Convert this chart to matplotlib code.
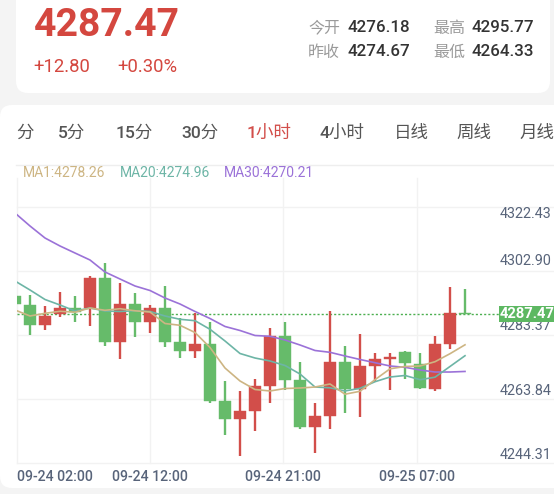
import matplotlib
matplotlib.use("Agg")
import matplotlib.pyplot as plt
from matplotlib.patches import FancyBboxPatch, Rectangle
from matplotlib.lines import Line2D
from matplotlib.transforms import IdentityTransform

# ---------------- data ----------------
opens = [4293.00, 4290.19, 4284.24, 4287.56, 4289.28, 4289.28, 4298.34, 4279.20,
         4290.67, 4285.05, 4289.28, 4279.10, 4276.39, 4278.65, 4261.29, 4255.70,
         4258.36, 4265.91, 4280.92, 4267.63, 4253.43, 4256.85, 4273.16, 4264.91,
         4271.95, 4273.88, 4276.18, 4272.46, 4264.91, 4278.50, 4287.95]
highs = [4294.20, 4293.21, 4290.07, 4294.30, 4293.09, 4299.13, 4303.05, 4296.83,
         4293.81, 4290.28, 4296.02, 4286.26, 4287.77, 4285.24, 4267.33, 4264.31,
         4267.87, 4283.42, 4285.24, 4273.16, 4260.59, 4288.47, 4277.99, 4281.46,
         4275.93, 4275.69, 4276.45, 4275.87, 4280.92, 4295.77, 4295.05]
lows = [4289.60, 4281.22, 4282.64, 4286.75, 4285.05, 4283.94, 4277.90, 4273.88,
        4280.61, 4281.73, 4277.69, 4274.42, 4274.42, 4260.77, 4251.02, 4244.68,
        4252.23, 4260.68, 4264.73, 4252.74, 4245.58, 4252.92, 4257.75, 4256.36,
        4267.02, 4264.61, 4267.93, 4264.90, 4264.33, 4276.99, 4287.47]
closes = [4290.49, 4284.15, 4286.96, 4289.28, 4288.26, 4298.34, 4279.20, 4290.67,
          4285.05, 4289.28, 4279.20, 4276.39, 4278.65, 4261.29, 4255.70, 4258.36,
          4265.91, 4280.92, 4267.63, 4253.34, 4256.76, 4273.16, 4264.76, 4271.86,
          4273.88, 4274.67, 4272.67, 4265.12, 4278.41, 4287.77, 4287.47]

ma1 = [4288.77, 4286.96, 4287.77, 4288.38, 4288.10, 4289.37, 4288.68, 4289.16,
       4288.53, 4288.16, 4284.69, 4284.15, 4281.97, 4277.44, 4271.25, 4267.33,
       4264.76, 4264.31, 4265.06, 4265.21, 4265.51, 4266.42, 4263.34, 4264.22,
       4267.72, 4271.01, 4271.71, 4271.86, 4273.15, 4275.57, 4278.26]
ma20 = [4297.53, 4294.81, 4291.94, 4290.28, 4288.47, 4289.37, 4288.47, 4288.32,
        4288.56, 4288.32, 4286.96, 4285.96, 4285.54, 4282.94, 4279.41, 4275.63,
        4274.27, 4273.37, 4272.01, 4269.44, 4265.51, 4265.27, 4264.31, 4265.12,
        4267.11, 4268.53, 4268.99, 4267.72, 4268.47, 4271.71, 4274.96]
ma30 = [4318.06, 4314.14, 4310.51, 4308.10, 4305.98, 4303.87, 4300.25, 4298.13,
        4296.02, 4294.66, 4292.39, 4290.58, 4288.32, 4286.20, 4283.79, 4282.58,
        4281.07, 4280.83, 4279.71, 4278.20, 4276.54, 4275.99, 4274.88, 4273.82,
        4272.85, 4271.86, 4271.46, 4270.65, 4270.04, 4270.04, 4270.21]

price_ticks = ["4322.43", "4302.90", "4283.37", "4263.84", "4244.31"]
price_tick_values = [4322.43, 4302.90, 4283.37, 4263.84, 4244.31]
time_labels = ["09-24 02:00", "09-24 12:00", "09-24 21:00", "09-25 07:00"]
last_price = 4287.47
last_price_text = "4287.47"
change_text = "+12.80"
change_pct_text = "+0.30%"
stat_names = ["今开", "最高", "昨收", "最低"]
stat_values = ["4276.18", "4295.77", "4274.67", "4264.33"]
tabs = ["分", "5分", "15分", "30分", "1小时", "4小时", "日线", "周线", "月线"]
active_tab = "1小时"
ma_labels = ["MA1:4278.26", "MA20:4274.96", "MA30:4270.21"]

# ---------------- style ----------------
plt.rcParams['font.family'] = ['Roboto', 'Noto Sans CJK SC', 'DejaVu Sans']
RED = "#D24E4A"
GREEN = "#66BB6A"
C_MA1 = "#CDB583"
C_MA20 = "#6DB5A6"
C_MA30 = "#9B72D8"
GRID = "#F2F2F2"
AXTXT = "#58647A"

W, H, DPI = 554, 494, 100
fig = plt.figure(figsize=(W / DPI, H / DPI), dpi=DPI, facecolor="#F4F4F4")
ID = IdentityTransform()


def fx(x):
    return x / W


def fy(y):
    return 1 - y / H


# cards (pixel coordinates, y measured from top)
def card(x0, y0, x1, y1, r=12):
    p = FancyBboxPatch((x0, H - y1), x1 - x0, y1 - y0,
                       boxstyle=f"round,pad=0,rounding_size={r}",
                       transform=ID, facecolor="white", edgecolor="none", zorder=-5)
    fig.patches.append(p)


card(16, -30, 550, 93)
card(0, 105, 580, 488)

# ---------------- header ----------------
fig.text(fx(34), fy(25), last_price_text, color="#D4473F", fontsize=28.2,
         fontweight="bold", va="center", ha="left")
fig.text(fx(33), fy(67), change_text, color="#D4473F", fontsize=13.3, va="center", ha="left")
fig.text(fx(117), fy(67), change_pct_text, color="#D4473F", fontsize=13.3, va="center", ha="left")

stat_pos = [(308, 347, 28), (433, 471, 28), (308, 347, 52), (433, 471, 52)]
for (lx, vx, yy), nm, val in zip(stat_pos, stat_names, stat_values):
    fig.text(fx(lx), fy(yy), nm, color="#9A9A9A", fontsize=11.5, va="center", ha="left")
    fig.text(fx(vx), fy(yy), val, color="#333333", fontsize=12.2, va="center", ha="left",
             fontweight="medium")

tab_x = [16, 58, 116, 181, 247, 320, 394, 456, 519]
for tx, t in zip(tab_x, tabs):
    fig.text(fx(tx), fy(133), t, color=RED if t == active_tab else "#555555",
             fontsize=12.6, va="center", ha="left", fontweight="medium")

fig.lines.append(Line2D([16, W], [H - 165, H - 165], transform=ID, color="#EEEEEE", lw=1))

ma_x = [23, 120, 224]
for mx, lab, col in zip(ma_x, ma_labels, [C_MA1, C_MA20, C_MA30]):
    fig.text(fx(mx), fy(173), lab, color=col, fontsize=10, va="center", ha="left")

# ---------------- chart ----------------
top_px, bot_px, left_px, right_px = 178, 462.7, 16.5, 554
ax = fig.add_axes([fx(left_px), fy(bot_px), (right_px - left_px) / W, (bot_px - top_px) / H])
ax.set_facecolor("none")
ax.set_zorder(1)
for s in ax.spines.values():
    s.set_visible(False)
ax.set_xticks([])
ax.set_yticks([])

step_px, first_px = 15.0, 15.0
ax.set_xlim((left_px - first_px) / step_px, (right_px - first_px) / step_px)
k = 0.30201
ax.set_ylim(last_price - (bot_px - 314.3) * k, last_price + (314.3 - top_px) * k)

span = bot_px - top_px
# horizontal gridlines
for j in range(5):
    py = 206.7 + 64 * j
    f = (bot_px - py) / span
    ax.plot([0, 1], [f, f], transform=ax.transAxes, color=GRID, lw=1, zorder=0, clip_on=False)
# vertical gridlines
for j in range(4):
    px = left_px + 133.4 * j
    f = (px - left_px) / (right_px - left_px)
    ax.plot([f, f], [0, 1], transform=ax.transAxes, color=GRID, lw=1, zorder=0, clip_on=False)

# price line
xmax_f = (499 - left_px) / (right_px - left_px)
ax.axhline(last_price, xmin=0, xmax=xmax_f, color="#4CAF50", lw=1.0,
           ls=(0, (1.5, 1.5)), zorder=1)

# candles
xs = list(range(len(opens)))
for i in xs:
    o, h, l, c = opens[i], highs[i], lows[i], closes[i]
    col = RED if c >= o else GREEN
    ax.vlines(i, l, h, color=col, lw=1.7, zorder=2)
    body_lo = min(o, c)
    body_h = max(abs(c - o), 0.45)
    ax.bar(i, body_h, bottom=body_lo, width=0.74, color=col, edgecolor=col,
           linewidth=0.3, zorder=3)

# moving averages
ax.plot(xs, ma30, color=C_MA30, lw=1.2, zorder=4)
ax.plot(xs, ma20, color=C_MA20, lw=1.2, zorder=4)
ax.plot(xs, ma1, color=C_MA1, lw=1.2, zorder=4)

# y labels (right side)
fig.canvas.draw()
for j, (lab, val) in enumerate(zip(price_ticks, price_tick_values)):
    if j == 0:
        py = 214
    else:
        py = H - ax.transData.transform((0, val))[1] - 2
    fig.text(fx(499.5), fy(py), lab, color=AXTXT, fontsize=10.4, va="center", ha="left",
             zorder=2)

# last price tag
lp_py = H - ax.transData.transform((0, last_price))[1]
fig.patches.append(Rectangle((499, H - lp_py - 8), 60, 16, transform=ID,
                             facecolor="#5DB862", edgecolor="none", zorder=5))
fig.text(fx(500), fy(lp_py), last_price_text, color="white", fontsize=10.6,
         fontweight="bold", va="center", ha="left", zorder=6)

# x labels
for j, lab in enumerate(time_labels):
    px = left_px + 133.4 * j
    fig.text(fx(px if j else 16.7), fy(477), lab, color=AXTXT, fontsize=10.2,
             va="center", ha="left" if j == 0 else "center", fontweight="medium")

fig.savefig("out.png", dpi=DPI, facecolor=fig.get_facecolor())
